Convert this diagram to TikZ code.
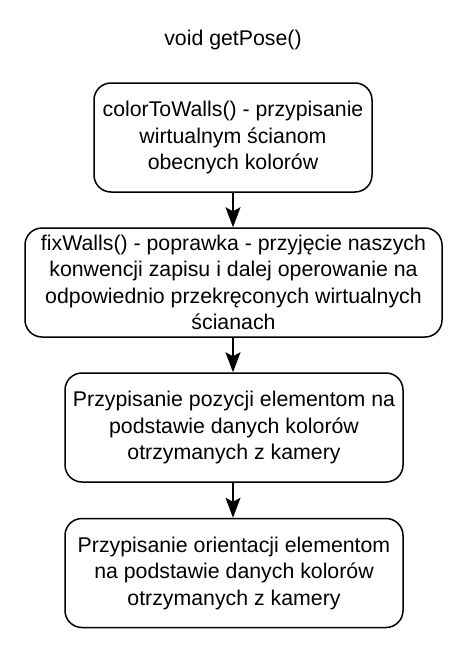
\documentclass[tikz,border=0pt]{standalone}
\usepackage{fontspec}
\setmainfont{Liberation Sans}
\usetikzlibrary{arrows.meta}

\begin{document}
\begin{tikzpicture}[->,>={Stealth[length=20pt,width=15pt,inset=4pt]},draw=black,line width=1.5pt]
    \tikzstyle{every node}=[font=\fontsize{21.3}{26.5}\selectfont]
    \tikzstyle{process}=[draw,rounded corners=17pt,align=center,inner sep=0pt,line width=1.5pt]
    \tikzstyle{small process}=[process,minimum width=278pt,minimum height=109pt]
    \tikzstyle{wide process}=[process,minimum width=417pt,minimum height=109pt]
    \tikzstyle{mid process}=[process,minimum width=338pt,minimum height=109pt]

    \useasboundingbox (0,0) rectangle (460pt,-645pt);

    % Title
    \node (T) at (233pt,-40pt) {void getPose()};

    % Draw the steps
    \node[small process] (S-1) at (233pt,-137.5pt) {colorToWalls() - przypisanie\\wirtualnym ścianom\\obecnych kolorów};
    \node[wide process] (S-2) at (233.5pt,-282.5pt) {fixWalls() - poprawka - przyjęcie naszych\\konwencji zapisu i dalej operowanie na\\odpowiednio przekręconych wirtualnych\\ścianach};
    \node[mid process] (S-3) at (234pt,-427.5pt) {Przypisanie pozycji elementom na\\podstawie danych kolorów\\otrzymanych z kamery};
    \node[mid process] (S-4) at (234pt,-573pt) {Przypisanie orientacji elementom\\na podstawie danych kolorów\\otrzymanych z kamery};

    \path (S-1.south -| T) edge (S-2.north -| T);
    \path (S-2.south -| T) edge (S-3.north -| T);
    \path (S-3.south -| T) edge (S-4.north -| T);
\end{tikzpicture}
\end{document}
